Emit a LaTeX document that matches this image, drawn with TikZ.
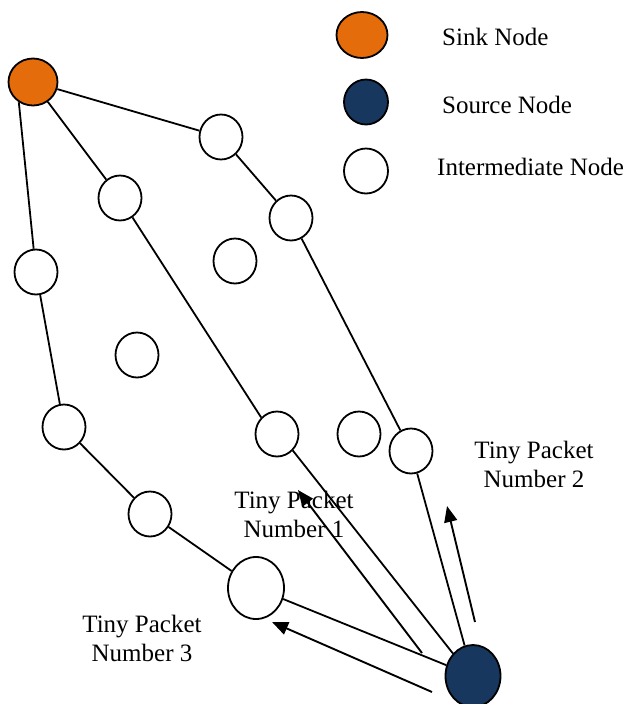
\documentclass[tikz,border=0pt]{standalone}
\usepackage{fontspec}
\setmainfont{Liberation Serif}
\usepackage{tikz}
\usetikzlibrary{arrows.meta,shapes.geometric}
\definecolor{sinkc}{HTML}{E46C0A}
\definecolor{srcc}{HTML}{17375E}
\tikzset{
  relay/.style={ellipse,draw,line width=1.8pt,fill=white,inner sep=0pt,minimum width=43pt,minimum height=45pt},
  sinknode/.style={relay,fill=sinkc,minimum width=49pt,minimum height=47pt},
  srcnode/.style={relay,fill=srcc,minimum width=55pt,minimum height=62pt},
  link/.style={line width=1.8pt},
  pkt/.style={line width=1.9pt,-{Triangle[length=16pt,width=13pt]}},
  lbl/.style={align=center,inner sep=0pt,font=\fontsize{25}{29}\selectfont}
}
\begin{document}
\begin{tikzpicture}[x=1pt,y=-1pt]
  \useasboundingbox (0,0) rectangle (623,704);
  % nodes of the network
  \node[sinknode] (sink) at (33,82) {};
  \node[srcnode] (src) at (473,676) {};
  \node[relay] (a1) at (221,137) {};
  \node[relay] (a2) at (291,218) {};
  \node[relay] (a3) at (411,451) {};
  \node[relay] (b1) at (120,198) {};
  \node[relay] (b2) at (277,434) {};
  \node[relay] (c1) at (36,272) {};
  \node[relay] (c2) at (64,427) {};
  \node[relay] (c3) at (150,514) {};
  \node[relay,minimum width=56pt,minimum height=62pt] (c4) at (256,588) {};
  \node[relay] (x1) at (235,261) {};
  \node[relay] (x2) at (137,355) {};
  \node[relay] (x3) at (359,434) {};
  % routes
  \draw[link] (sink) -- (a1) -- (a2) -- (a3) -- (src);
  \draw[link] (sink) -- (b1) -- (b2.north west);
  \draw[link] (b2.south east) -- (src.north west);
  \draw[link] (sink.235) -- (c1) -- (c2) -- (c3) -- (c4) -- (src);
  % tiny packets
  \coordinate (p1s) at (422,653); \coordinate (p1e) at (298,490);
  \coordinate (p2s) at (475,622); \coordinate (p2e) at (447,506);
  \coordinate (p3s) at (432,692); \coordinate (p3e) at (272,622);
  \draw[pkt] (p1s) -- (p1e);
  \draw[pkt] (p2s) -- (p2e);
  \draw[pkt] (p3s) -- (p3e);
  \node[lbl] (lab1) at (294,514) {Tiny Packet\\Number 1};
  \node[lbl] (lab2) at (534,464) {Tiny Packet\\Number 2};
  \node[lbl] (lab3) at (142,638) {Tiny Packet\\Number 3};
  % legend
  \node[sinknode,minimum width=51pt,minimum height=46pt] (ksink) at (362,35) {};
  \node[srcnode,minimum width=44pt,minimum height=45pt] (ksrc) at (366,102) {};
  \node[relay,minimum width=44pt,minimum height=45pt] (krel) at (366,171) {};
  \node[lbl,anchor=west] (tsink) at (442,37) {Sink Node};
  \node[lbl,anchor=west] (tsrc) at (442,105) {Source Node};
  \node[lbl,anchor=west] (trel) at (437,167) {Intermediate Node};
\end{tikzpicture}
\end{document}
